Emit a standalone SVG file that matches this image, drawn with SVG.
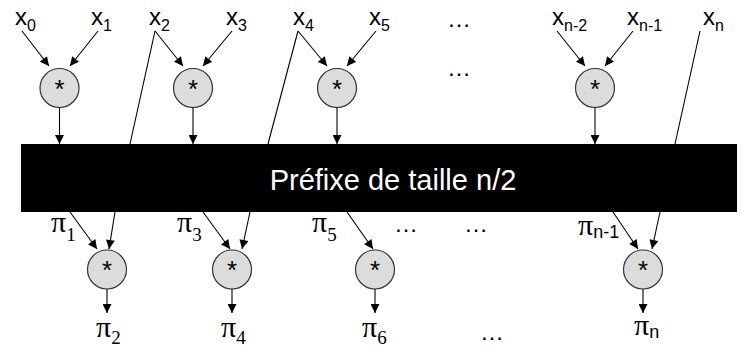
<svg xmlns="http://www.w3.org/2000/svg" width="755" height="347" viewBox="0 0 755 347">
<defs>
<marker id="ah" viewBox="0 0 10 10" refX="10" refY="5" markerWidth="10" markerHeight="9" markerUnits="userSpaceOnUse" orient="auto">
<path d="M0,0 L10,5 L0,10 z" fill="#000"/>
</marker>
<style>
.op circle{fill:#dcdcdc;stroke:#333;stroke-width:1.2}
.op text{font-family:"Liberation Sans",Arial,sans-serif;font-size:26px;text-anchor:middle;fill:#000}
.lbl{font-family:"Liberation Sans",Arial,sans-serif;font-size:24px;fill:#000}
.sub{font-size:16px}
.pi{font-family:"Liberation Serif","Times New Roman",serif;font-size:30px;fill:#000}
.pisub{font-family:"Liberation Serif","Times New Roman",serif;font-size:19px}
.pisans{font-family:"Liberation Sans",Arial,sans-serif;font-size:18px}
.dots{font-family:"Liberation Sans",Arial,sans-serif;font-size:24px;fill:#000}
.arr{stroke:#000;stroke-width:1.1;fill:none;marker-end:url(#ah)}
.ln{stroke:#000;stroke-width:1.1;fill:none}
</style>
</defs>
<rect width="755" height="347" fill="#fff"/>

<g id="prefix">
<rect x="21" y="144" width="716" height="68" fill="#000"/>
<text x="393" y="190" font-family="'Liberation Sans',Arial,sans-serif" font-size="29" fill="#fff" text-anchor="middle">Préfixe de taille n/2</text>
</g>

<g id="labels-top">
<text class="lbl" x="15" y="25">x<tspan class="sub" dy="6">0</tspan></text>
<text class="lbl" x="91" y="25">x<tspan class="sub" dy="6">1</tspan></text>
<text class="lbl" x="149" y="25">x<tspan class="sub" dy="6">2</tspan></text>
<text class="lbl" x="226" y="25">x<tspan class="sub" dy="6">3</tspan></text>
<text class="lbl" x="293" y="25">x<tspan class="sub" dy="6">4</tspan></text>
<text class="lbl" x="369" y="25">x<tspan class="sub" dy="6">5</tspan></text>
<text class="lbl" x="552" y="25">x<tspan class="sub" dy="6">n-2</tspan></text>
<text class="lbl" x="627" y="25">x<tspan class="sub" dy="6">n-1</tspan></text>
<text class="lbl" x="703" y="25">x<tspan class="sub" dy="6">n</tspan></text>
<text class="dots" x="447" y="27">…</text>
<text class="dots" x="447" y="76">…</text>
</g>

<g id="op-t1" class="op"><circle cx="59.5" cy="88" r="19.5"/><text x="59.5" y="98">*</text></g>
<g id="op-t2" class="op"><circle cx="193" cy="88" r="19.5"/><text x="193" y="98">*</text></g>
<g id="op-t3" class="op"><circle cx="337" cy="88" r="19.5"/><text x="337" y="98">*</text></g>
<g id="op-t4" class="op"><circle cx="595" cy="88" r="19.5"/><text x="595" y="98">*</text></g>

<g id="op-b1" class="op"><circle cx="107" cy="269.5" r="19.5"/><text x="107" y="278.5">*</text></g>
<g id="op-b2" class="op"><circle cx="232" cy="269.5" r="19.5"/><text x="232" y="278.5">*</text></g>
<g id="op-b3" class="op"><circle cx="375" cy="269.5" r="19.5"/><text x="375" y="278.5">*</text></g>
<g id="op-b4" class="op"><circle cx="643" cy="269.5" r="19.5"/><text x="643" y="278.5">*</text></g>

<g id="connectors">
<line class="arr" x1="22" y1="31" x2="49" y2="66"/>
<line class="arr" x1="98" y1="31" x2="70" y2="66"/>
<line class="arr" x1="155" y1="31" x2="183" y2="66"/>
<line class="arr" x1="232" y1="31" x2="203" y2="66"/>
<line class="arr" x1="298" y1="31" x2="327" y2="66"/>
<line class="arr" x1="376" y1="31" x2="347" y2="66"/>
<line class="arr" x1="557" y1="31" x2="585" y2="66"/>
<line class="arr" x1="633" y1="31" x2="605" y2="66"/>
<line class="ln" x1="155" y1="31" x2="130" y2="144"/>
<line class="ln" x1="298" y1="31" x2="268" y2="144"/>
<line class="ln" x1="700" y1="31" x2="675" y2="144"/>
<line class="arr" x1="59.5" y1="107.5" x2="59.5" y2="144"/>
<line class="arr" x1="193" y1="107.5" x2="193" y2="144"/>
<line class="arr" x1="337" y1="107.5" x2="337" y2="144"/>
<line class="arr" x1="595" y1="107.5" x2="595" y2="144"/>
<line class="arr" x1="70" y1="212" x2="97" y2="249"/>
<line class="arr" x1="115" y1="212" x2="109" y2="249"/>
<line class="arr" x1="203" y1="212" x2="230" y2="249"/>
<line class="arr" x1="250" y1="212" x2="242" y2="249"/>
<line class="arr" x1="347" y1="212" x2="373" y2="249"/>
<line class="arr" x1="613" y1="212" x2="638" y2="249"/>
<line class="arr" x1="660" y1="212" x2="652" y2="249"/>
<line class="arr" x1="107" y1="289" x2="107" y2="313"/>
<line class="arr" x1="232" y1="289" x2="232" y2="313"/>
<line class="arr" x1="375" y1="289" x2="375" y2="313"/>
<line class="arr" x1="643" y1="289" x2="643" y2="313"/>
</g>

<g id="labels-bottom">
<text class="pi" x="51" y="232">π<tspan class="pisub" dy="9">1</tspan></text>
<text class="pi" x="177" y="232">π<tspan class="pisub" dy="9">3</tspan></text>
<text class="pi" x="312" y="232">π<tspan class="pisub" dy="9">5</tspan></text>
<text class="pi" x="578" y="235">π<tspan class="pisans" dy="3">n-1</tspan></text>
<text class="pi" x="96" y="337">π<tspan class="pisub" dy="7">2</tspan></text>
<text class="pi" x="221" y="337">π<tspan class="pisub" dy="7">4</tspan></text>
<text class="pi" x="362" y="337">π<tspan class="pisub" dy="7">6</tspan></text>
<text class="pi" x="634" y="335">π<tspan class="pisans" dy="3">n</tspan></text>
<text class="dots" x="394" y="232">…</text>
<text class="dots" x="464" y="232">…</text>
<text class="dots" x="480" y="340">…</text>
</g>
</svg>
